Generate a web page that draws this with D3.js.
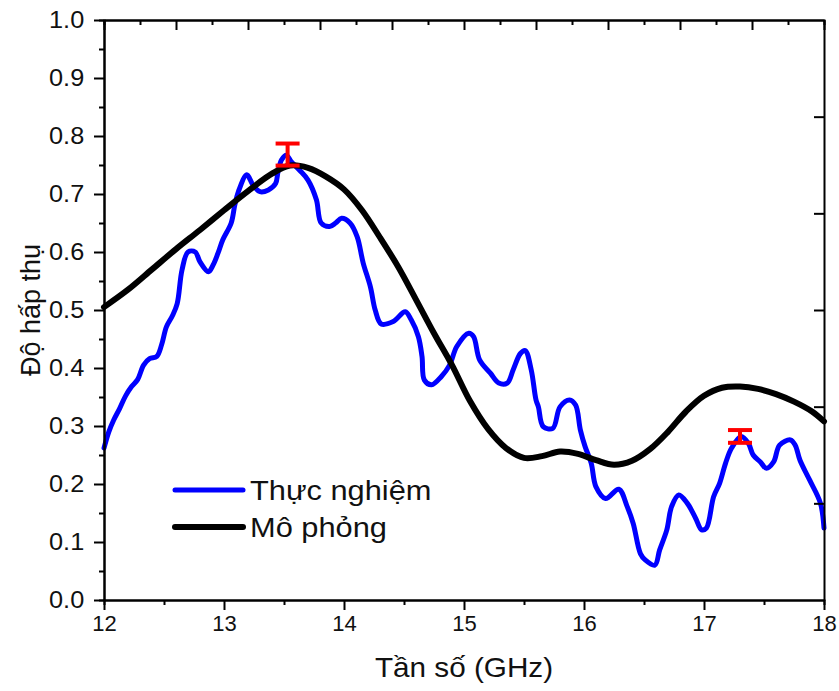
<!DOCTYPE html>
<html>
<head>
<meta charset="utf-8">
<script src="https://cdn.jsdelivr.net/npm/d3@7"></script>
<style>
  html, body { margin: 0; padding: 0; background: #fff; }
  svg { display: block; }
  text { font-family: "Liberation Sans", Arial, sans-serif; fill: #111; }
</style>
</head>
<body>
<svg id="chart" width="839" height="691"></svg>
<script>
// ---- data ----
const freqExp = [12.00,12.04,12.08,12.13,12.18,12.23,12.28,12.33,12.38,12.44,12.48,12.52,12.57,12.61,12.65,12.70,12.76,12.80,12.87,12.91,12.95,12.99,13.06,13.09,13.12,13.19,13.24,13.30,13.37,13.43,13.45,13.48,13.52,13.56,13.63,13.70,13.77,13.81,13.88,13.93,13.98,14.05,14.11,14.16,14.22,14.26,14.31,14.41,14.51,14.56,14.62,14.65,14.67,14.73,14.81,14.88,14.94,15.04,15.08,15.13,15.22,15.29,15.36,15.41,15.47,15.51,15.56,15.60,15.62,15.66,15.74,15.80,15.88,15.93,15.97,16.01,16.06,16.10,16.18,16.29,16.36,16.41,16.47,16.51,16.59,16.63,16.69,16.73,16.79,16.86,16.93,16.98,17.02,17.08,17.13,17.18,17.23,17.31,17.37,17.41,17.47,17.52,17.58,17.63,17.72,17.76,17.80,17.88,17.97,18.00];
const absExp  = [0.262,0.290,0.310,0.330,0.352,0.368,0.380,0.405,0.416,0.420,0.440,0.471,0.490,0.511,0.569,0.600,0.600,0.583,0.566,0.578,0.598,0.621,0.650,0.681,0.704,0.733,0.716,0.704,0.707,0.718,0.738,0.759,0.767,0.756,0.741,0.724,0.690,0.650,0.644,0.650,0.658,0.650,0.626,0.581,0.540,0.500,0.476,0.480,0.497,0.483,0.454,0.420,0.379,0.371,0.385,0.405,0.437,0.460,0.454,0.414,0.391,0.374,0.374,0.397,0.425,0.430,0.397,0.345,0.333,0.299,0.296,0.333,0.345,0.336,0.293,0.264,0.236,0.195,0.175,0.191,0.161,0.132,0.080,0.069,0.060,0.086,0.121,0.161,0.181,0.167,0.141,0.121,0.124,0.178,0.201,0.236,0.262,0.282,0.270,0.250,0.238,0.227,0.238,0.267,0.276,0.267,0.241,0.207,0.167,0.124];

const freqSim = [12.0,12.2,12.4,12.6,12.8,13.0,13.2,13.4,13.55,13.7,13.85,14.0,14.15,14.3,14.45,14.6,14.75,14.9,15.05,15.2,15.35,15.5,15.65,15.8,15.95,16.1,16.25,16.4,16.55,16.7,16.85,17.0,17.15,17.3,17.45,17.6,17.75,17.9,18.0];
const absSim  = [0.505,0.535,0.570,0.605,0.638,0.672,0.705,0.735,0.749,0.745,0.730,0.708,0.672,0.625,0.575,0.518,0.460,0.405,0.343,0.295,0.262,0.245,0.248,0.256,0.252,0.241,0.233,0.240,0.260,0.290,0.325,0.352,0.366,0.368,0.364,0.355,0.342,0.325,0.308];

const errFreq = [13.53, 17.30];
const errLow  = [0.749, 0.271];
const errHigh = [0.787, 0.293];

const xTicks = [12,13,14,15,16,17,18];
const yTicks = [0.0,0.1,0.2,0.3,0.4,0.5,0.6,0.7,0.8,0.9,1.0];
const seriesNames = ["Thực nghiệm", "Mô phỏng"];
const xTitle = "Tần số (GHz)";
const yTitle = "Độ hấp thụ";

// ---- layout ----
const L = 104, R = 824, T = 20, B = 600;
const SX = 1.1; // horizontal stretch of horizontal text
const svg = d3.select("#chart");
const x = d3.scaleLinear().domain([12, 18]).range([L, R]);
const y = d3.scaleLinear().domain([0, 1]).range([B, T]);
// mirror (unlabelled) axes on top and right
const xTop = d3.scaleLinear().domain([0, 10]).range([L, R]);
const yRight = d3.scaleLinear().domain([0, 6]).range([B, T]);

// curves
const lineExp = d3.line().x((d,i) => x(freqExp[i])).y((d,i) => y(absExp[i])).curve(d3.curveCatmullRom.alpha(0.5));
const lineSim = d3.line().x((d,i) => x(freqSim[i])).y((d,i) => y(absSim[i])).curve(d3.curveCatmullRom.alpha(0.5));

const plot = svg.append("g");
plot.append("path").datum(absExp).attr("d", lineExp)
  .attr("fill","none").attr("stroke","#0000ff").attr("stroke-width",5)
  .attr("stroke-linejoin","round").attr("stroke-linecap","round");
plot.append("path").datum(absSim).attr("d", lineSim)
  .attr("fill","none").attr("stroke","#000").attr("stroke-width",6)
  .attr("stroke-linejoin","round").attr("stroke-linecap","round");

// error bars
const eb = plot.selectAll("g.err").data(errFreq).enter().append("g").attr("class","err");
eb.append("line").attr("x1",d=>x(d)).attr("x2",d=>x(d))
  .attr("y1",(d,i)=>y(errLow[i])).attr("y2",(d,i)=>y(errHigh[i]))
  .attr("stroke","#ff0000").attr("stroke-width",4);
eb.append("line").attr("x1",d=>x(d)-12).attr("x2",d=>x(d)+12)
  .attr("y1",(d,i)=>y(errLow[i])).attr("y2",(d,i)=>y(errLow[i]))
  .attr("stroke","#ff0000").attr("stroke-width",4);
eb.append("line").attr("x1",d=>x(d)-12).attr("x2",d=>x(d)+12)
  .attr("y1",(d,i)=>y(errHigh[i])).attr("y2",(d,i)=>y(errHigh[i]))
  .attr("stroke","#ff0000").attr("stroke-width",4);

// ---- axes ----
function styleAxis(g){
  g.selectAll(".domain").attr("stroke","#000").attr("stroke-width",2);
  g.selectAll(".tick line").attr("stroke","#000").attr("stroke-width",2);
}
// bottom: minor then major
const gxMinor = svg.append("g").attr("transform",`translate(0,${B})`)
  .call(d3.axisBottom(x).tickValues(d3.range(12.5,18,1)).tickSize(5).tickFormat(""));
styleAxis(gxMinor);
const gx = svg.append("g").attr("transform",`translate(0,${B})`)
  .call(d3.axisBottom(x).tickValues(xTicks).tickSize(10).tickSizeOuter(0).tickFormat(d3.format("d")));
styleAxis(gx);
gx.selectAll(".tick text").attr("font-size",22).attr("dy","0.95em").attr("y",10)
  .style("font-family","'Liberation Sans', Arial, sans-serif").attr("fill","#111");

// left
const gyMinor = svg.append("g").attr("transform",`translate(${L},0)`)
  .call(d3.axisLeft(y).tickValues(d3.range(0.05,1,0.1)).tickSize(5).tickFormat(""));
styleAxis(gyMinor);
const gy = svg.append("g").attr("transform",`translate(${L},0)`)
  .call(d3.axisLeft(y).tickValues(yTicks).tickSize(10).tickSizeOuter(0).tickFormat(d3.format(".1f")));
styleAxis(gy);
gy.selectAll(".tick text").attr("font-size",23).attr("x",-18)
  .attr("transform",`scale(${SX},1)`)
  .style("font-family","'Liberation Sans', Arial, sans-serif").attr("fill","#111");

// top (inward)
const gtMinor = svg.append("g").attr("transform",`translate(0,${T})`)
  .call(d3.axisBottom(xTop).tickValues(d3.range(0.5,10,1)).tickSize(5).tickFormat(""));
styleAxis(gtMinor);
const gt = svg.append("g").attr("transform",`translate(0,${T})`)
  .call(d3.axisBottom(xTop).tickValues(d3.range(0,11,1)).tickSize(10).tickSizeOuter(0).tickFormat(""));
styleAxis(gt);
// right (inward)
const gr = svg.append("g").attr("transform",`translate(${R},0)`)
  .call(d3.axisLeft(yRight).tickValues(d3.range(1,6,1)).tickSize(10).tickSizeOuter(0).tickFormat(""));
styleAxis(gr);

// titles
svg.append("text").attr("transform",`translate(${(L+R)/2},677) scale(${SX},1)`).attr("text-anchor","middle")
  .attr("font-size",27).text(xTitle);
svg.append("text").attr("transform",`translate(40,${(T+B)/2}) rotate(-90)`).attr("text-anchor","middle")
  .attr("font-size",27).text(yTitle);

// legend
const legColors = ["#0000ff","#000"];
const legWidths = [5,6];
const legY = [490, 527];
const leg = svg.append("g");
seriesNames.forEach((name,i)=>{
  leg.append("line").attr("x1",175).attr("x2",243).attr("y1",legY[i]).attr("y2",legY[i])
    .attr("stroke",legColors[i]).attr("stroke-width",legWidths[i]).attr("stroke-linecap","round");
  leg.append("text").attr("transform",`translate(250,${legY[i]+10}) scale(${SX},1)`)
    .attr("font-size",28).text(name);
});
</script>
</body>
</html>
